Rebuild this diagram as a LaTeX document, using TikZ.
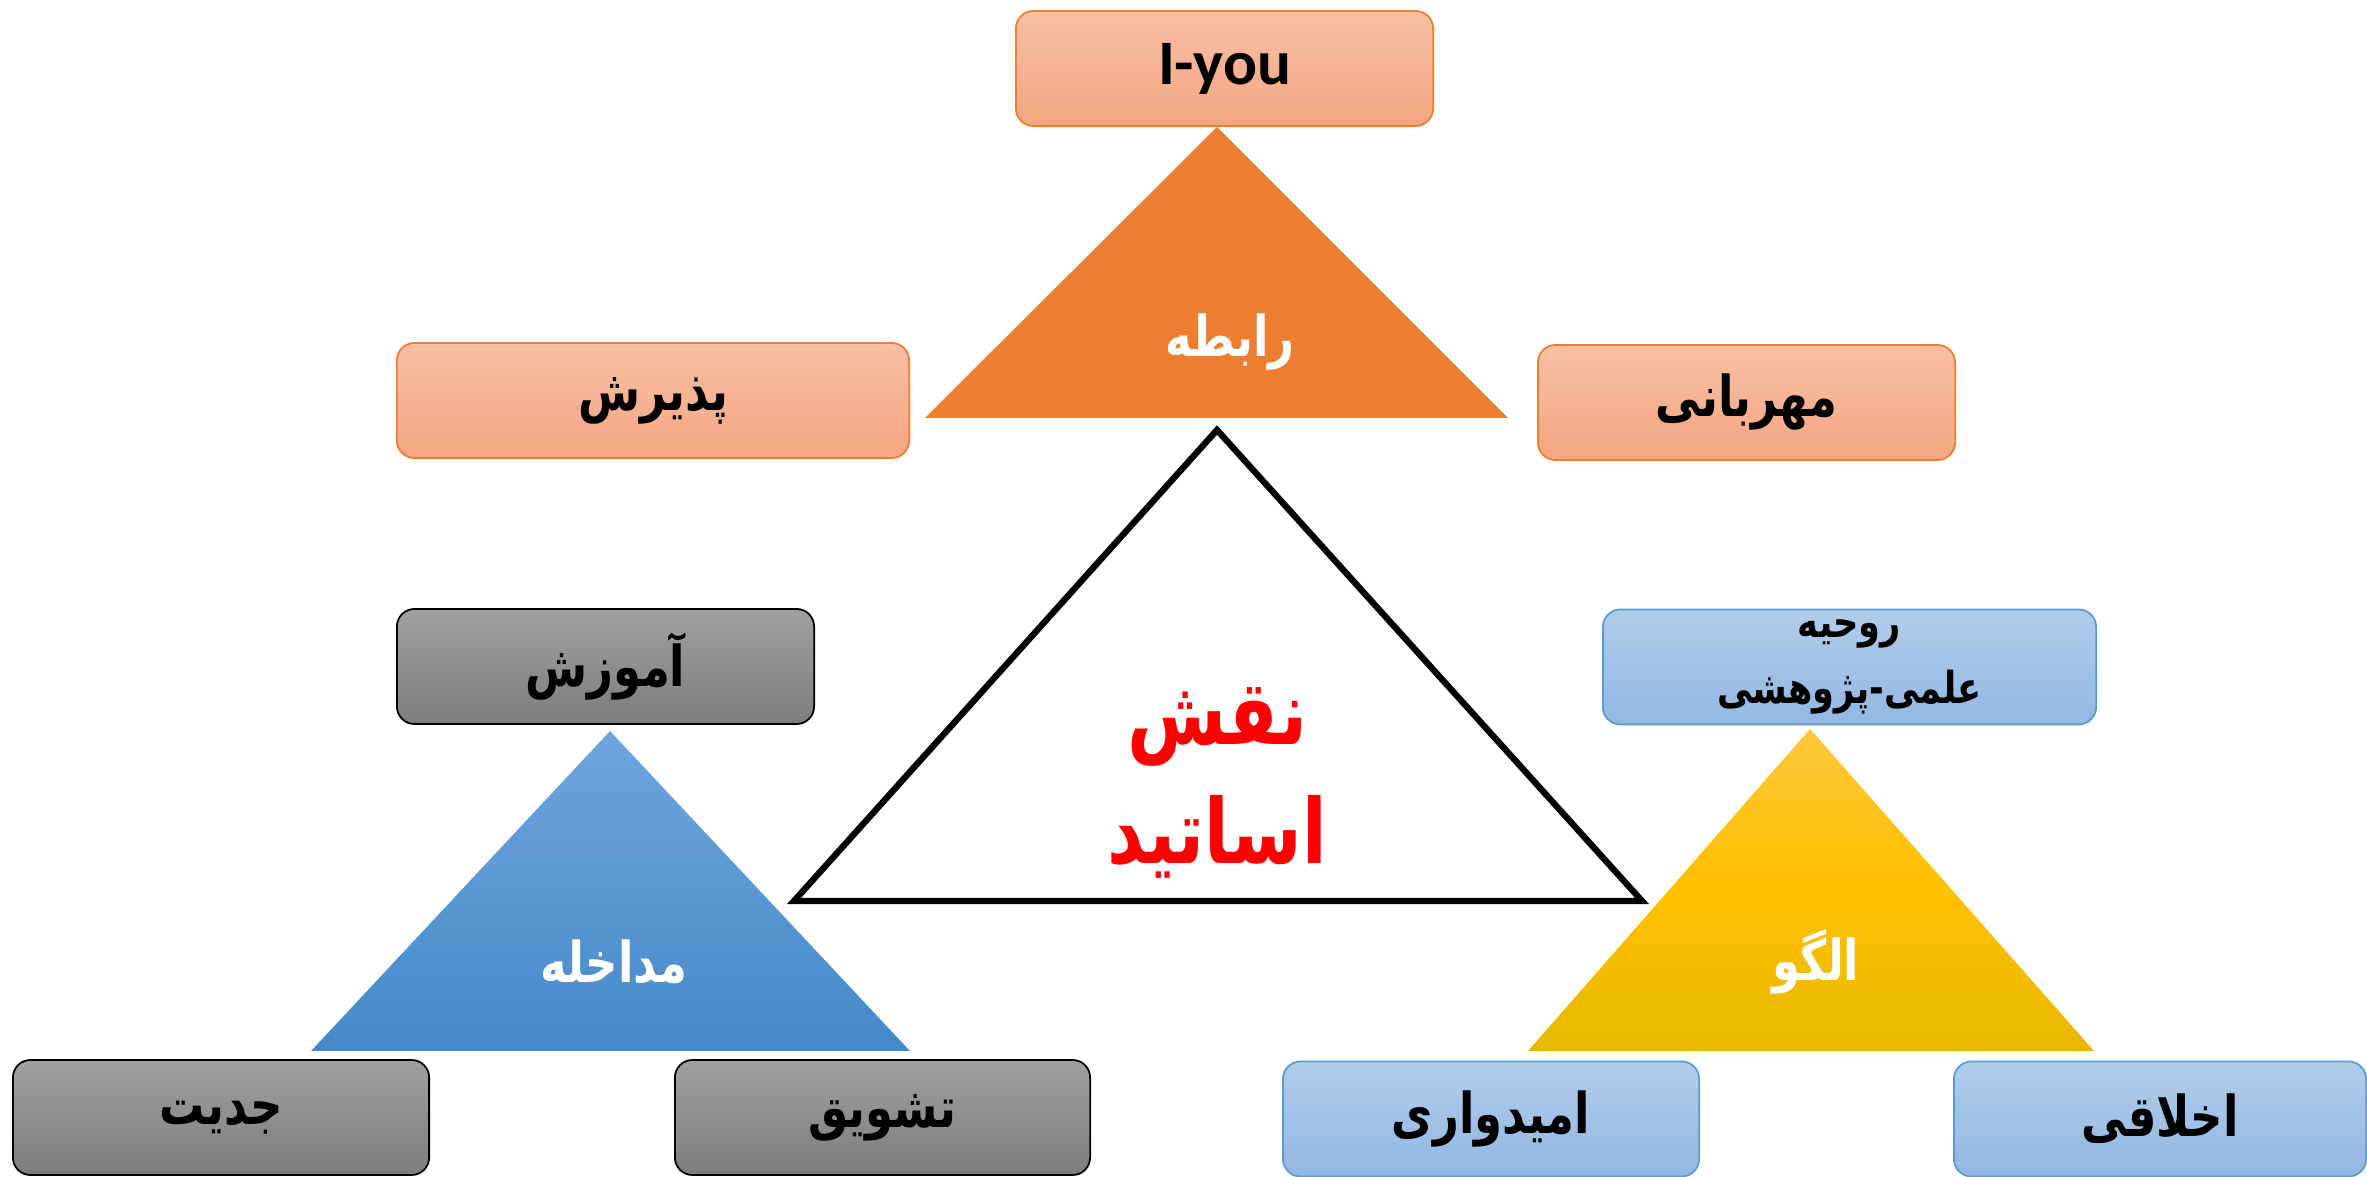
\documentclass[tikz,border=0pt]{standalone}
\usepackage{fontspec}
\setmainfont{Carlito}
\newfontfamily\farsi[Script=Arabic, FakeStretch=0.8]{DejaVu Sans}
\TeXXeTstate=1
\usepackage{tikz}
\definecolor{PeachTop}{HTML}{F7C0A5}
\definecolor{PeachBot}{HTML}{F4A582}
\definecolor{PeachLine}{HTML}{ED7D31}
\definecolor{OrangeTri}{HTML}{ED7D31}
\definecolor{GrayTop}{HTML}{A0A0A0}
\definecolor{GrayBot}{HTML}{7D7D7D}
\definecolor{SkyTop}{HTML}{B2CCEA}
\definecolor{SkyBot}{HTML}{92B7E2}
\definecolor{SkyLine}{HTML}{5B9BD5}
\definecolor{BlueTop}{HTML}{6FA5DC}
\definecolor{BlueBot}{HTML}{4589CA}
\definecolor{GoldTop}{HTML}{FFC63C}
\definecolor{GoldMid}{HTML}{FFC000}
\definecolor{GoldBot}{HTML}{E6B800}
\newcommand{\fa}[1]{{\farsi\bfseries\beginR #1\endR}}

\begin{document}
\begin{tikzpicture}[x=0.01cm, y=-0.01cm,
    box/.style={rounded corners=5pt, line width=0.5pt, inner sep=0pt, minimum height=1.15cm, font=\fontsize{16}{19}\selectfont},
    peach/.style={box, draw=PeachLine, top color=PeachTop, bottom color=PeachBot},
    graybox/.style={box, draw=black, top color=GrayTop, bottom color=GrayBot},
    sky/.style={box, draw=SkyLine, top color=SkyTop, bottom color=SkyBot},
    trilabel/.style={text=white, font=\fontsize{16}{19}\selectfont}]
    \useasboundingbox (0,0) rectangle (2367,1177);

    % Central triangle
    \draw[line width=1.8pt] (1217,430) -- (1642,901) -- (794,901) -- cycle;
    \node[text=red, align=center, font=\fontsize{25.5}{34}\selectfont] (naghsh) at (1217,783) {\fa{نقش}\\\fa{اساتید}};

    % Top: relation
    \fill[OrangeTri] (1217,127) -- (1508,418) -- (925,418) -- cycle;
    \node[trilabel] (rabeteh) at (1230,342) {\fa{رابطه}};
    \node[peach, minimum width=4.17cm] (iyou) at (1224.5,68.5) {\fontsize{18}{20}\selectfont\bfseries I-you};
    \node[peach, minimum width=5.12cm] (paziresh) at (653,400.5) {\fa{پذیرش}};
    \node[peach, minimum width=4.17cm] (mehrabani) at (1746.5,402.5) {\fa{مهربانی}};

    % Left: intervention
    \shade[top color=BlueTop, bottom color=BlueBot] (610,731) -- (910,1051) -- (311,1051) -- cycle;
    \node[trilabel] (modakheleh) at (614,962) {\fa{مداخله}};
    \node[graybox, minimum width=4.17cm] (amoozesh) at (605.5,666.5) {\fa{آموزش}};
    \node[graybox, minimum width=4.16cm] (jeddiyat) at (221,1117.5) {\fa{جدیت}};
    \node[graybox, minimum width=4.15cm] (tashvigh) at (882.5,1117.5) {\fa{تشویق}};

    % Right: model
    \shade[top color=GoldTop, bottom color=GoldBot, middle color=GoldMid] (1810,729) -- (2094,1051) -- (1528,1051) -- cycle;
    \node[trilabel] (olgoo) at (1816,962) {\fa{الگو}};
    \node[sky, minimum width=4.93cm, align=center, font=\fontsize{12.5}{19}\selectfont] (ruhiyeh) at (1849.5,667) {\fa{روحیه}\\\fa{علمی-پژوهشی}};
    \node[sky, minimum width=4.16cm] (omidvari) at (1491,1119) {\fa{امیدواری}};
    \node[sky, minimum width=4.12cm] (akhlaghi) at (2160,1119) {\fa{اخلاقی}};
\end{tikzpicture}
\end{document}
